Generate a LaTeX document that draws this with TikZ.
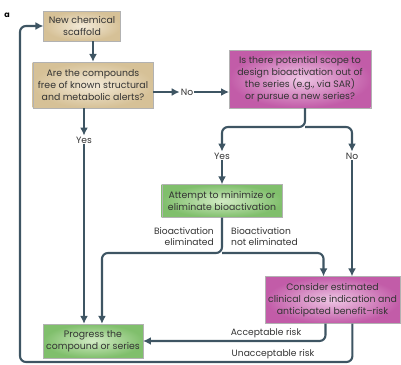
\documentclass[tikz,border=0pt]{standalone}
\usepackage{fontspec}
\setmainfont{Poppins}
\usepackage{tikz}
\usetikzlibrary{calc}
\usetikzlibrary{arrows.meta}
\usetikzlibrary{positioning}

\definecolor{linecol}{HTML}{3E5563}
\definecolor{textcol}{HTML}{333333}
\definecolor{tanin}{HTML}{F3EAD8}
\definecolor{tanout}{HTML}{D6C197}
\definecolor{pinkin}{HTML}{EEC6E4}
\definecolor{pinkout}{HTML}{C25CA8}
\definecolor{greenin}{HTML}{D2EBC4}
\definecolor{greenout}{HTML}{80BF6C}

\tikzset{
  box/.style = {rectangle, draw = black!30, line width = .4pt, align = center,
    inner sep = 1pt, text = textcol, font = \fontsize{9.4}{12.2}\selectfont},
  tanbox/.style = {box, inner color = tanin, outer color = tanout},
  pinkbox/.style = {box, inner color = pinkin, outer color = pinkout},
  greenbox/.style = {box, inner color = greenin, outer color = greenout},
  lbl/.style = {rectangle, inner sep = 1pt, text = textcol, font = \fontsize{9.2}{11.5}\selectfont},
  flow/.style = {-{Latex[length = 8pt, width = 8pt]}, draw = linecol, line width = 2.1pt, rounded corners = 6pt}
}

\begin{document}
\begin{tikzpicture}[x = 1bp, y = -1bp]
\useasboundingbox (0, 0) rectangle (401, 365);
\node [font = \bfseries\footnotesize] (panel) at (7, 15) {a};
\node [tanbox, minimum width = 77, minimum height = 30] (scaffold) at (82, 26) {New chemical\\scaffold};
\node [tanbox, minimum width = 121, minimum height = 46] (alerts) at (93, 85) {Are the compounds\\free of known structural\\and metabolic alerts?};
\node [lbl] (noA) at (187, 92) {No};
\node [pinkbox, minimum width = 142, minimum height = 58] (scope) at (300, 79) {Is there potential scope to\\design bioactivation out of\\the series (e.g., via SAR)\\or pursue a new series?};
\node [lbl] (yesA) at (84, 140) {Yes};
\node [lbl] (yesB) at (222, 156) {Yes};
\node [lbl] (noB) at (352, 156) {No};
\node [greenbox, minimum width = 121, minimum height = 33] (attempt) at (222, 201) {Attempt to minimize or\\eliminate bioactivation};
\node [lbl, align = right, anchor = north east] (elim) at (215, 226) {Bioactivation\\eliminated};
\node [lbl, align = left, anchor = north west] (notelim) at (230, 226) {Bioactivation\\not eliminated};
\node [pinkbox, minimum width = 135, minimum height = 47] (consider) at (332.5, 300) {Consider estimated\\clinical dose indication and\\anticipated benefit--risk};
\node [greenbox, minimum width = 100, minimum height = 34] (progress) at (93, 341) {Progress the\\compound or series};
\node [lbl] (accept) at (266, 333) {Acceptable risk};
\node [lbl] (unaccept) at (273, 354) {Unacceptable risk};

\coordinate (forkA) at (305, 127);
\coordinate (forkB) at (222, 253);
\coordinate (loop) at (20, 362);

\draw [flow] (scaffold.south -| alerts.north) to (alerts.north);
\draw [flow] (noA.west -| alerts.east) to (noA.west);
\draw [flow] (noA.east) to (noA.east -| scope.west);
\draw [flow] (alerts.south -| yesA) to (yesA.north);
\draw [flow] (yesA.south) to (yesA.south |- progress.north);
\draw [flow] (scope.south -| forkA) -- (forkA) -| (yesB.north);
\draw [flow] (forkA) -| (noB.north);
\draw [flow] (yesB.south) to (yesB.south |- attempt.north);
\draw [flow] (noB.south) to (noB.south |- consider.north);
\draw [flow] (attempt.south -| forkB) -- (forkB) -| ([xshift = 9]progress.north);
\draw [flow] (forkB) -| ([xshift = -9]consider.north);
\draw [flow] ([xshift = -7]consider.south) |- (progress.east);
\draw [flow] ([xshift = 20]consider.south) |- (loop) |- (scaffold.west);
\end{tikzpicture}
\end{document}
